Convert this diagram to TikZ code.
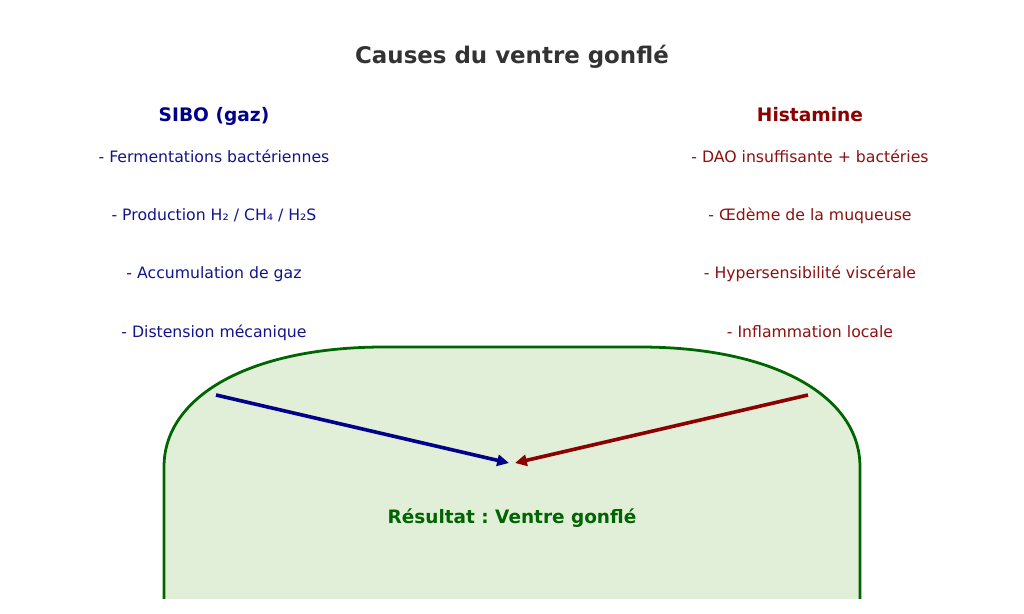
\documentclass[tikz,border=0pt]{standalone}
\usepackage{fontspec}
\setmainfont{DejaVu Sans}
\usetikzlibrary{arrows.meta}
\definecolor{titlegray}{HTML}{333333}
\definecolor{sibo}{HTML}{00008B}
\definecolor{siboitem}{HTML}{14148C}
\definecolor{hist}{HTML}{8B0000}
\definecolor{histitem}{HTML}{8E1010}
\definecolor{resgreen}{HTML}{006400}
\definecolor{boxfill}{HTML}{E1EFD9}
\frenchspacing
\tikzset{
  titletext/.style={font=\fontsize{16.5}{19}\selectfont\bfseries, text=titlegray, inner sep=0pt, anchor=base},
  headtext/.style={font=\fontsize{13.4}{16}\selectfont\bfseries, inner sep=0pt, anchor=base},
  itemtext/.style={font=\fontsize{11.3}{14}\selectfont, inner sep=0pt, anchor=base},
  restext/.style={font=\fontsize{13.3}{16}\selectfont\bfseries, text=resgreen, inner sep=0pt, anchor=base},
  conn/.style={line width=2.6pt, -{Triangle[length=8.5pt,width=8pt]}}
}
\begin{document}
\begin{tikzpicture}[x=0.72pt,y=-0.72pt]
\useasboundingbox (0,0) rectangle (1024,614);
\fill[white] (0,0) rectangle (1024,614);
\begin{scope}
\clip (0,0) rectangle (1024,598);
\draw[line width=2pt, draw=resgreen, fill=boxfill]
  (164,467) .. controls (164,395) and (252,347) .. (384,347)
  -- (640,347) .. controls (772,347) and (860,395) .. (860,467)
  -- (860,800) -- (164,800) -- cycle;
\end{scope}
\node[titletext] (title) at (512,63) {Causes du ventre gonflé};
\node[headtext, text=sibo] (sibo) at (214,121.5) {SIBO (gaz)};
\node[itemtext, text=siboitem] (s1) at (214,162) {- Fermentations bactériennes};
\node[itemtext, text=siboitem] (s2) at (214,220) {- Production H₂ / CH₄ / H₂S};
\node[itemtext, text=siboitem] (s3) at (214,278) {- Accumulation de gaz};
\node[itemtext, text=siboitem] (s4) at (214,337) {- Distension mécanique};
\node[headtext, text=hist] (hist) at (810,121.5) {Histamine};
\node[itemtext, text=histitem] (h1) at (810,162) {- DAO insuffisante + bactéries};
\node[itemtext, text=histitem] (h2) at (810,220) {- Œdème de la muqueuse};
\node[itemtext, text=histitem] (h3) at (810,278) {- Hypersensibilité viscérale};
\node[itemtext, text=histitem] (h4) at (810,337) {- Inflammation locale};
\node[restext] (res) at (512,523) {Résultat : Ventre gonflé};
\coordinate (sstart) at (216,395);
\coordinate (send) at (509,463);
\coordinate (hstart) at (808,395);
\coordinate (hend) at (515,463);
\draw[conn, draw=sibo, fill=sibo] (sstart) -- (send);
\draw[conn, draw=hist, fill=hist] (hstart) -- (hend);
\end{tikzpicture}
\end{document}
